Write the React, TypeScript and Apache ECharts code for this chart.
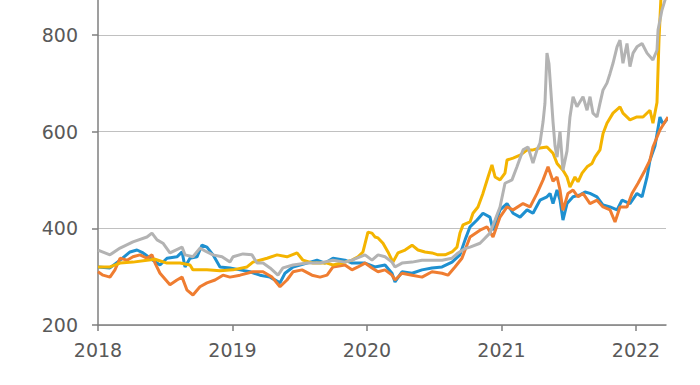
import React, { useEffect, useRef } from "react";
import * as echarts from "echarts";

// Tick labels
const yearTicks = [2018, 2019, 2020, 2021, 2022];
const valueTicks = [200, 400, 600, 800];

// [decimal year, value]
const blueData = [
  [2018.0, 320], [2018.089, 318], [2018.164, 334], [2018.238, 351], [2018.29, 355], [2018.335, 349],
  [2018.409, 334], [2018.461, 324], [2018.513, 338], [2018.587, 341], [2018.625, 351], [2018.647, 320],
  [2018.684, 338], [2018.736, 341], [2018.773, 365], [2018.81, 361], [2018.855, 345], [2018.907, 320],
  [2018.981, 318], [2019.056, 314], [2019.13, 310], [2019.204, 303], [2019.279, 299], [2019.353, 287],
  [2019.39, 307], [2019.45, 320], [2019.554, 328], [2019.628, 334], [2019.688, 328], [2019.747, 338],
  [2019.836, 334], [2019.888, 328], [2019.985, 328], [2020.059, 320], [2020.134, 324], [2020.186, 307],
  [2020.208, 289], [2020.26, 310], [2020.335, 307], [2020.409, 314], [2020.483, 318], [2020.558, 320],
  [2020.632, 330], [2020.691, 345], [2020.729, 376], [2020.766, 403], [2020.818, 417], [2020.862, 431],
  [2020.914, 423], [2020.937, 396], [2020.989, 438], [2021.041, 451], [2021.086, 431], [2021.138, 423],
  [2021.19, 438], [2021.234, 431], [2021.286, 458], [2021.338, 465], [2021.361, 472], [2021.383, 451],
  [2021.413, 479], [2021.435, 458], [2021.457, 417], [2021.487, 451], [2021.532, 465], [2021.584, 469],
  [2021.621, 475], [2021.658, 472], [2021.71, 465], [2021.755, 448], [2021.807, 444], [2021.859, 438],
  [2021.896, 458], [2021.955, 451], [2022.007, 472], [2022.045, 465], [2022.082, 506], [2022.104, 541],
  [2022.141, 570], [2022.178, 630], [2022.201, 615], [2022.23, 625],
];

const orangeData = [
  [2018.0, 310], [2018.037, 303], [2018.089, 299], [2018.126, 314], [2018.164, 338], [2018.216, 334],
  [2018.26, 341], [2018.312, 345], [2018.364, 338], [2018.401, 345], [2018.424, 328], [2018.461, 307],
  [2018.535, 283], [2018.587, 293], [2018.625, 299], [2018.662, 272], [2018.706, 262], [2018.758, 279],
  [2018.81, 287], [2018.87, 293], [2018.929, 303], [2018.981, 299], [2019.056, 303], [2019.152, 310],
  [2019.227, 310], [2019.294, 299], [2019.353, 279], [2019.405, 293], [2019.45, 310], [2019.517, 314],
  [2019.591, 303], [2019.651, 299], [2019.703, 303], [2019.747, 320], [2019.836, 324], [2019.888, 314],
  [2019.933, 320], [2019.985, 328], [2020.037, 318], [2020.082, 310], [2020.134, 314], [2020.186, 303],
  [2020.208, 293], [2020.26, 307], [2020.335, 303], [2020.409, 299], [2020.483, 310], [2020.558, 307],
  [2020.602, 303], [2020.654, 320], [2020.706, 338], [2020.766, 382], [2020.84, 396], [2020.892, 403],
  [2020.937, 382], [2020.989, 423], [2021.041, 444], [2021.086, 438], [2021.16, 451], [2021.212, 444],
  [2021.264, 472], [2021.309, 500], [2021.346, 527], [2021.383, 497], [2021.413, 506], [2021.435, 479],
  [2021.457, 437], [2021.494, 472], [2021.532, 479], [2021.569, 465], [2021.606, 472], [2021.658, 451],
  [2021.71, 458], [2021.755, 444], [2021.807, 438], [2021.844, 413], [2021.881, 444], [2021.933, 444],
  [2021.97, 472], [2022.015, 493], [2022.067, 520], [2022.104, 541], [2022.126, 568], [2022.178, 603],
  [2022.238, 630],
];

const yellowData = [
  [2018.0, 320], [2018.089, 320], [2018.164, 328], [2018.26, 330], [2018.364, 334], [2018.424, 336],
  [2018.513, 328], [2018.61, 328], [2018.684, 324], [2018.706, 314], [2018.81, 314], [2018.907, 312],
  [2019.004, 314], [2019.108, 320], [2019.152, 330], [2019.257, 338], [2019.331, 345], [2019.405, 341],
  [2019.48, 349], [2019.524, 334], [2019.599, 328], [2019.703, 328], [2019.747, 324], [2019.836, 330],
  [2019.888, 334], [2019.933, 341], [2019.97, 351], [2020.007, 392], [2020.037, 390], [2020.059, 382],
  [2020.082, 380], [2020.119, 369], [2020.156, 351], [2020.193, 330], [2020.23, 349], [2020.283, 355],
  [2020.335, 365], [2020.379, 355], [2020.431, 351], [2020.483, 349], [2020.528, 345], [2020.58, 345],
  [2020.632, 351], [2020.669, 361], [2020.691, 390], [2020.714, 407], [2020.766, 413], [2020.788, 431],
  [2020.825, 444], [2020.862, 472], [2020.9, 506], [2020.929, 531], [2020.952, 506], [2020.989, 500],
  [2021.026, 514], [2021.041, 541], [2021.086, 545], [2021.138, 551], [2021.19, 562], [2021.234, 562],
  [2021.286, 566], [2021.338, 568], [2021.383, 555], [2021.413, 534], [2021.457, 520], [2021.487, 506],
  [2021.509, 485], [2021.546, 506], [2021.569, 496], [2021.599, 514], [2021.636, 527], [2021.673, 534],
  [2021.695, 547], [2021.732, 562], [2021.755, 596], [2021.784, 617], [2021.829, 638], [2021.881, 651],
  [2021.903, 638], [2021.955, 624], [2022.007, 630], [2022.052, 630], [2022.104, 644], [2022.126, 617],
  [2022.156, 660], [2022.171, 790], [2022.186, 880], [2022.208, 910],
];

const grayData = [
  [2018.0, 355], [2018.089, 345], [2018.164, 359], [2018.26, 372], [2018.364, 382], [2018.401, 390],
  [2018.439, 376], [2018.483, 369], [2018.535, 349], [2018.625, 361], [2018.647, 345], [2018.706, 341],
  [2018.758, 359], [2018.81, 351], [2018.855, 345], [2018.922, 341], [2018.981, 330], [2019.004, 341],
  [2019.078, 347], [2019.145, 345], [2019.182, 328], [2019.227, 328], [2019.279, 318], [2019.338, 303],
  [2019.375, 318], [2019.45, 324], [2019.554, 328], [2019.651, 328], [2019.747, 334], [2019.836, 330],
  [2019.888, 334], [2019.985, 345], [2020.037, 334], [2020.082, 345], [2020.134, 341], [2020.186, 330],
  [2020.208, 320], [2020.26, 328], [2020.335, 330], [2020.409, 334], [2020.483, 334], [2020.558, 334],
  [2020.632, 338], [2020.677, 349], [2020.729, 358], [2020.766, 361], [2020.84, 369], [2020.914, 390],
  [2020.952, 417], [2020.989, 444], [2021.026, 493], [2021.078, 500], [2021.115, 527], [2021.16, 562],
  [2021.197, 568], [2021.234, 535], [2021.264, 562], [2021.286, 576], [2021.309, 620], [2021.323, 658],
  [2021.338, 762], [2021.353, 740], [2021.368, 680], [2021.383, 620], [2021.398, 570], [2021.413, 547],
  [2021.435, 600], [2021.457, 520], [2021.487, 560], [2021.509, 630], [2021.532, 672], [2021.561, 651],
  [2021.606, 672], [2021.636, 644], [2021.658, 672], [2021.68, 638], [2021.71, 630], [2021.732, 658],
  [2021.755, 686], [2021.784, 700], [2021.807, 720], [2021.829, 741], [2021.859, 775], [2021.881, 789],
  [2021.903, 741], [2021.933, 782], [2021.955, 734], [2021.978, 762], [2022.007, 775], [2022.045, 782],
  [2022.082, 762], [2022.126, 748], [2022.156, 768], [2022.164, 810], [2022.193, 851], [2022.216, 872],
  [2022.238, 900],
];

const seriesNames = ["Blue", "Orange", "Yellow", "Gray"];
const seriesColors = ["#1e90d0", "#ef7d31", "#f4b400", "#b3b3b3"];
const seriesData = [blueData, orangeData, yellowData, grayData];

export default function App() {
  const ref = useRef<HTMLDivElement>(null);
  useEffect(() => {
    if (!ref.current) return;
    const chart = echarts.init(ref.current, null, { renderer: "svg" });
    const axisColor = "#7f7f7f";
    const labelColor = "#595959";
    const font = "'DejaVu Sans', Verdana, sans-serif";
    chart.setOption({
      animation: false,
      grid: { left: 98, right: 34, top: 8, bottom: 60, containLabel: false },
      xAxis: {
        type: "value",
        min: 2018,
        max: 2022.223,
        interval: 1,
        axisLine: { show: true, lineStyle: { color: axisColor, width: 1.5 } },
        axisTick: {
          show: true,
          length: 6,
          inside: false,
          lineStyle: { color: axisColor, width: 1.5 },
          customValues: yearTicks,
        },
        axisLabel: {
          color: labelColor,
          fontSize: 19,
          fontFamily: font,
          margin: 15,
          customValues: yearTicks,
          formatter: (v: number) => String(Math.round(v)),
        },
        splitLine: { show: false },
      },
      yAxis: {
        type: "value",
        min: 200,
        max: 1000,
        interval: 200,
        axisLine: { show: true, lineStyle: { color: axisColor, width: 1.5 } },
        axisTick: {
          show: true,
          length: 6,
          lineStyle: { color: axisColor, width: 1.5 },
          customValues: valueTicks,
        },
        axisLabel: {
          color: labelColor,
          fontSize: 19,
          fontFamily: font,
          margin: 20,
          customValues: valueTicks,
        },
        splitLine: { show: true, lineStyle: { color: "#c0c0c0", width: 1 } },
      },
      series: seriesData.map((d, i) => ({
        name: seriesNames[i],
        type: "line",
        data: d,
        showSymbol: false,
        symbol: "none",
        lineStyle: { color: seriesColors[i], width: 3 },
        itemStyle: { color: seriesColors[i] },
        z: 2 + i,
      })),
    });
    return () => chart.dispose();
  }, []);
  return (
    <div
      ref={ref}
      style={{ position: "absolute", left: 0, top: -70, width: 700, height: 455 }}
    />
  );
}
